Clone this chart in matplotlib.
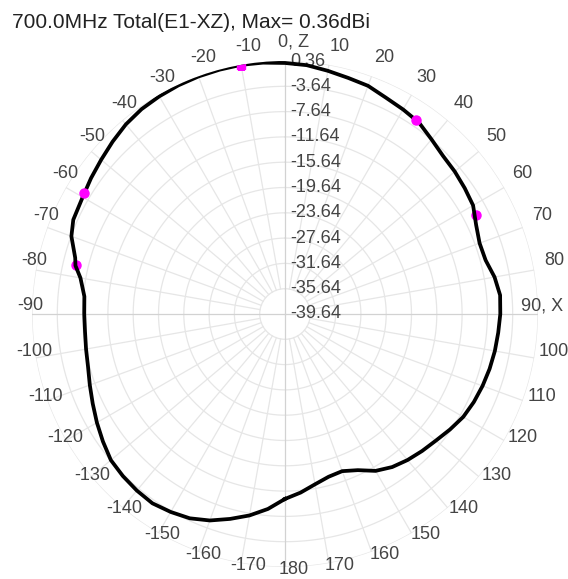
import numpy as np
import matplotlib.pyplot as plt

# measured pattern (deg, dBi)
angles = [-180, -175, -170, -165, -160, -155, -150, -145, -140, -135, -130, -125,
          -120, -115, -110, -105, -100, -95, -90, -85, -80, -77, -75, -70, -66,
          -60, -55, -50, -45, -40, -35, -30, -25, -20, -15, -10, -5, 0, 5, 10,
          15, 20, 25, 30, 35, 40, 45, 50, 55, 60, 65, 70, 75, 80, 85, 90, 95,
          100, 105, 110, 115, 120, 125, 130, 135, 140, 145, 150, 155, 160, 165,
          170, 175, 180]
gain = [-10.4, -8.7, -7.3, -6.1, -4.9, -4.0, -3.5, -3.1, -3.2, -3.4, -3.7, -4.5,
        -5.3, -6.1, -6.8, -7.4, -7.7, -7.9, -7.9, -7.8, -6.8, -5.64, -5.3, -3.7, -3.0,
        -2.7, -2.2, -1.7, -1.1, -0.5, -0.1, 0.1, 0.25, 0.33, 0.35, 0.36, 0.25, 0.05,
        -0.15, -0.6, -1.0, -1.25, -1.9, -2.3, -2.7, -3.6, -4.3, -4.6, -4.95, -5.3,
        -6.3, -6.9, -6.8, -6.0, -5.5, -5.6, -5.8, -5.95, -6.15, -6.4, -6.7, -7.1,
        -7.8, -8.5, -9.0, -9.5, -10.1, -11.0, -12.4, -13.2, -13.0, -12.3, -11.3, -10.4]
# max, -3 dB and -6 dB marks
max_angle, max_gain = -10, 0.36
mark_angles = [34, -59, 62.6, -76.8]
mark_gain = [-2.64, -2.64, -5.64, -5.64]

ring_vals = [0.36, -3.64, -7.64, -11.64, -15.64, -19.64, -23.64, -27.64, -31.64, -35.64, -39.64]
ang_ticks = list(range(-170, 190, 10))

rmin, rmax = -39.64, 0.36
W, H = 568, 579
cx, cy, R = 285, 314, 253

fig = plt.figure(figsize=(W / 100, H / 100), dpi=100)
ax = fig.add_axes([(cx - R) / W, (H - cy - R) / H, 2 * R / W, 2 * R / H], projection='polar')
ax.set_theta_zero_location('N')
ax.set_theta_direction(-1)
ax.set_ylim(rmin, rmax)
ax.grid(False)
ax.set_xticks([])
ax.set_yticks([])
ax.spines['polar'].set_visible(False)
ax.patch.set_alpha(0)

# grid
full = np.linspace(0, 2 * np.pi, 400)
for v in ring_vals[:-1]:
    ax.plot(full, np.full_like(full, v), color='#e6e6e6', lw=0.9, zorder=1)
for a in range(0, 360, 10):
    t = np.radians(a)
    if a % 90 == 0:
        ax.plot([t, t], [rmin, rmax], color='#d2d2d2', lw=0.9, zorder=1)
    else:
        ax.plot([t, t], [ring_vals[-2], rmax], color='#e6e6e6', lw=0.9, zorder=1)

# radial labels
for v in ring_vals:
    ax.annotate('%.2f' % v, xy=(0, v), xytext=(5, 0), textcoords='offset pixels',
                ha='left', va='center', fontsize=13, color='#444444',
                family='Liberation Sans', annotation_clip=False, zorder=3)

# angle labels
r_lab = rmin + 264 / R * (rmax - rmin)
for a in ang_ticks:
    txt = str(a)
    ha, dx = 'center', 9
    if a == 0:
        txt = '0, Z'
    elif a == 90:
        txt, ha, dx = '90, X', 'right', 14
    ax.annotate(txt, xy=(np.radians(a), r_lab), xytext=(dx, 8), textcoords='offset pixels',
                ha=ha, va='center', fontsize=13, color='#444444',
                family='Liberation Sans', annotation_clip=False)

# pattern
th = np.radians(angles)
ax.plot(th, gain, color='black', lw=2.7, zorder=5, solid_joinstyle='round')
ax.plot([np.radians(max_angle)], [max_gain], 's', color='#ff00ff', ms=6, zorder=6)
ax.plot(np.radians(mark_angles[:2]), mark_gain[:2], 'o', color='#ff00ff', ms=6.5, zorder=6)
ax.plot(np.radians(mark_angles[2:]), mark_gain[2:], 'o', color='#ff00ff', ms=6.5, zorder=4)

fig.text(12 / W, 1 - 28 / H, '700.0MHz Total(E1-XZ), Max= 0.36dBi', fontsize=15,
         color='#222222', family='Liberation Sans', va='baseline', ha='left')

fig.savefig('out.png', dpi=100)
